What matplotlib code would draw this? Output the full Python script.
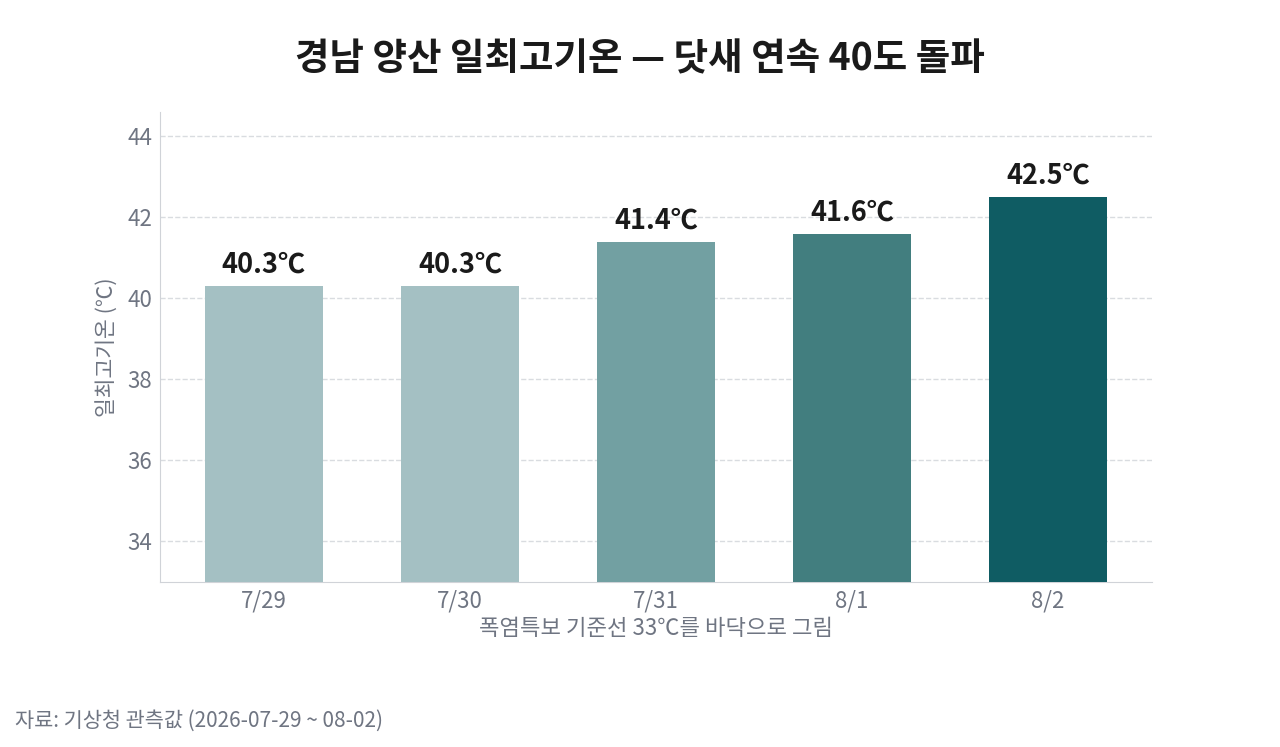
import matplotlib
matplotlib.use('Agg')
import matplotlib.pyplot as plt
import numpy as np

plt.rcParams['font.family'] = ['Noto Sans CJK KR', 'DejaVu Sans']

dates = ['7/29', '7/30', '7/31', '8/1', '8/2']
temps = [40.3, 40.3, 41.4, 41.6, 42.5]
colors = ['#a4c0c3', '#a4c0c3', '#72a0a2', '#427e7f', '#0f5c63']

fig, ax = plt.subplots(figsize=(12.8, 7.47), dpi=100)
fig.subplots_adjust(left=0.125, right=0.9, top=0.85, bottom=0.221)

x = np.arange(len(dates))
ax.bar(x, temps, width=0.6, color=colors, zorder=3)
for xi, t in zip(x, temps):
    ax.text(xi, t + 0.18, f'{t:.1f}℃', ha='center', va='bottom',
            fontsize=19.5, fontweight='bold', color='#1a1a1a')

ax.set_ylim(33, 44.6)
ax.set_yticks([34, 36, 38, 40, 42, 44])
ax.set_xticks(x)
ax.set_xticklabels(dates)
ax.tick_params(axis='both', labelsize=16, colors='#6f7582', length=0, pad=5.5)
ax.grid(axis='y', linestyle='--', color='#d9dce0', linewidth=1, zorder=0)
for s in ['top', 'right']:
    ax.spines[s].set_visible(False)
for s in ['left', 'bottom']:
    ax.spines[s].set_color('#d0d3d8')

ax.set_ylabel('일최고기온 (℃)', fontsize=15.5, color='#6f7582', labelpad=6)
ax.set_xlabel('폭염특보 기준선 33℃를 바닥으로 그림', fontsize=16, color='#6f7582', labelpad=3)

fig.suptitle('경남 양산 일최고기온 — 닷새 연속 40도 돌파', fontsize=27,
             fontweight='bold', color='#1a1a1a', y=0.947)
fig.text(0.012, 0.027, '자료: 기상청 관측값 (2026-07-29 ~ 08-02)', fontsize=15,
         color='#6f7582')

fig.savefig('out.png', dpi=100)
